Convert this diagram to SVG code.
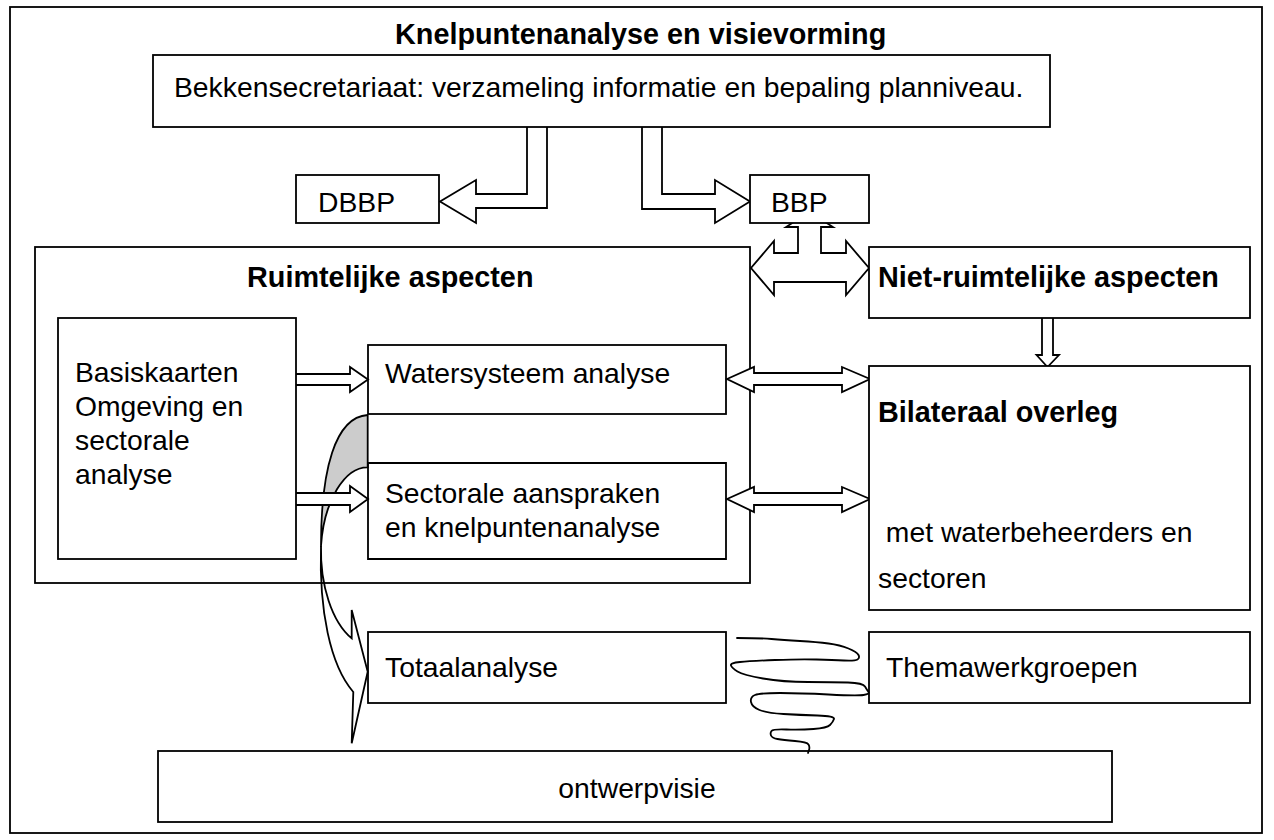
<svg xmlns="http://www.w3.org/2000/svg" width="1274" height="840" viewBox="0 0 1274 840">
  <style>
    .box { fill: #ffffff; stroke: #000000; stroke-width: 1.8; }
    .frame { fill: none; stroke: #000000; stroke-width: 1.8; }
    .arrow { fill: #ffffff; stroke: #000000; stroke-width: 1.8; stroke-linejoin: miter; }
    .line { fill: none; stroke: #000000; stroke-width: 1.8; stroke-linecap: round; stroke-linejoin: round; }
    .t { font-family: "Liberation Sans", Arial, sans-serif; font-size: 28.3px; fill: #000000; }
    .b { font-weight: bold; font-size: 28.8px; }
  </style>

  <rect width="1274" height="840" fill="#ffffff"/>
  <!-- outer frame -->
  <rect class="frame" x="10" y="7" width="1252" height="826"/>
  <text class="t b" x="395" y="44">Knelpuntenanalyse en visievorming</text>

  <!-- curved band from the analysis boxes down to Totaalanalyse (drawn first, underneath) -->
  <g id="curved-arrow">
    <path d="M367.7,415 C335,417 321,470 321,546 C324,500 345,467 367.7,467.3 Z" fill="#cccccc" stroke="#000" stroke-width="1.8" stroke-linejoin="round"/>
    <path d="M321,546 C320,585 332,622 351.7,638.3 L351.7,610 L367.7,671.7 L351.7,743.3 L353.3,692 C330,665 319,610 321,546 Z" fill="none" stroke="#000" stroke-width="1.8" stroke-linejoin="miter"/>
  </g>

  <g id="ruimtelijk">
    <rect class="frame" x="35" y="247" width="715" height="336"/>
    <text class="t b" x="247" y="287">Ruimtelijke aspecten</text>
  </g>

  <g id="connectors">
    <!-- top box to DBBP -->
    <path class="arrow" d="M527,127 L527,194 L476,194 L476,180 L440,201.5 L476,223 L476,208 L547,208 L547,127"/>
    <!-- top box to BBP -->
    <path class="arrow" d="M642,127 L642,209 L715,209 L715,223 L750,201.5 L715,180 L715,194 L662,194 L662,127"/>
    <!-- three-way arrow: BBP, Ruimtelijke, Niet-ruimtelijke -->
    <path class="arrow" d="M798,227 L798,253 L774,253 L774,241 L751,268 L774,295 L774,282 L846,282 L846,295 L869,268 L846,241 L846,253 L821,253 L821,227 L833,227 L809.5,212 L786,227 Z"/>
    <!-- Niet-ruimtelijke down to Bilateraal -->
    <path class="arrow" d="M1042,318 L1042,355 L1036.5,355 L1047.5,367 L1059,355 L1053,355 L1053,318"/>
    <!-- Basiskaarten to Watersysteem -->
    <path class="arrow" d="M296,374 L350,374 L350,367 L368,379.5 L350,392 L350,385 L296,385"/>
    <!-- Basiskaarten to Sectorale -->
    <path class="arrow" d="M296,493 L350,493 L350,486 L368,499 L350,512 L350,505 L296,505"/>
    <!-- Watersysteem <-> Bilateraal -->
    <path class="arrow" d="M727,379 L754,367 L754,373 L842,373 L842,367 L870,379 L842,392 L842,385 L754,385 L754,392 Z"/>
    <!-- Sectorale <-> Bilateraal -->
    <path class="arrow" d="M727,499 L754,487 L754,493 L842,493 L842,487 L870,499 L842,512 L842,505 L754,505 L754,512 Z"/>
    <!-- hand-drawn squiggle from Totaalanalyse / Themawerkgroepen to ontwerpvisie -->
    <path class="line" d="M737,638 Q760,638 771.5,639 Q783,640 800,641 Q817,642 828.5,643.5 Q840,645 848.5,648.5 Q857,652 858.5,655 Q860,658 857.5,659.5 Q855,661 844,660.5 Q833,660 816.5,659.5 Q800,659 775,660 Q750,661 740,662 Q730,663 731,665.5 Q732,668 737.5,671.5 Q743,675 763,678.5 Q783,682 808,682 Q833,682 848,682.5 Q863,683 865,686.5 Q867,690 868.5,692 Q870,694 863.5,695 Q857,696 828.5,694.5 Q800,693 780,693 Q760,693 755,695 Q750,697 751,702 Q752,707 759.5,710 Q767,713 783.5,714 Q800,715 817.5,715.5 Q835,716 834,719 Q833,722 830,725 Q827,728 813.5,729 Q800,730 786.5,729.5 Q773,729 771.5,731 Q770,733 771,735.5 Q772,738 777.5,739 Q783,740 795,741 Q807,742 808.5,744.5 Q810,747 809,750 L808,753"/>
  </g>

  <g id="bekkensecretariaat">
    <rect class="box" x="153" y="55" width="897" height="72"/>
    <text class="t" x="174" y="97">Bekkensecretariaat: verzameling informatie en bepaling planniveau.</text>
  </g>

  <g id="dbbp">
    <rect class="box" x="296" y="175" width="143" height="48"/>
    <text class="t" x="318" y="212">DBBP</text>
  </g>

  <g id="bbp">
    <rect class="box" x="750" y="175" width="119" height="48"/>
    <text class="t" x="771" y="212">BBP</text>
  </g>

  <g id="niet-ruimtelijk">
    <rect class="box" x="869" y="247" width="381" height="71"/>
    <text class="t b" x="878" y="287">Niet-ruimtelijke aspecten</text>
  </g>

  <g id="basiskaarten">
    <rect class="box" x="58" y="318" width="238" height="241"/>
    <text class="t" x="75" y="382">Basiskaarten</text>
    <text class="t" x="75" y="416">Omgeving en</text>
    <text class="t" x="75" y="450">sectorale</text>
    <text class="t" x="75" y="484">analyse</text>
  </g>

  <g id="watersysteem">
    <rect class="frame" x="368" y="345" width="358" height="69"/>
    <text class="t" x="385" y="383">Watersysteem analyse</text>
  </g>

  <g id="sectorale">
    <path class="frame" d="M368,463 L726,463 L726,559 L368,559 Z"/>
    <text class="t" x="385" y="503">Sectorale aanspraken</text>
    <text class="t" x="385" y="537">en knelpuntenanalyse</text>
  </g>

  <g id="bilateraal">
    <rect class="box" x="869" y="366" width="381" height="244"/>
    <text class="t b" x="878" y="422">Bilateraal overleg</text>
    <text class="t" x="878" y="542" xml:space="preserve"> met waterbeheerders en</text>
    <text class="t" x="878" y="588">sectoren</text>
  </g>

  <g id="totaalanalyse">
    <rect class="frame" x="368" y="632" width="358" height="71"/>
    <text class="t" x="385" y="677">Totaalanalyse</text>
  </g>

  <g id="themawerkgroepen">
    <rect class="frame" x="869" y="632" width="381" height="71"/>
    <text class="t" x="886" y="677">Themawerkgroepen</text>
  </g>

  <g id="ontwerpvisie">
    <rect class="frame" x="158" y="751" width="954" height="71"/>
    <text class="t" x="637" y="798" text-anchor="middle">ontwerpvisie</text>
  </g>
</svg>
